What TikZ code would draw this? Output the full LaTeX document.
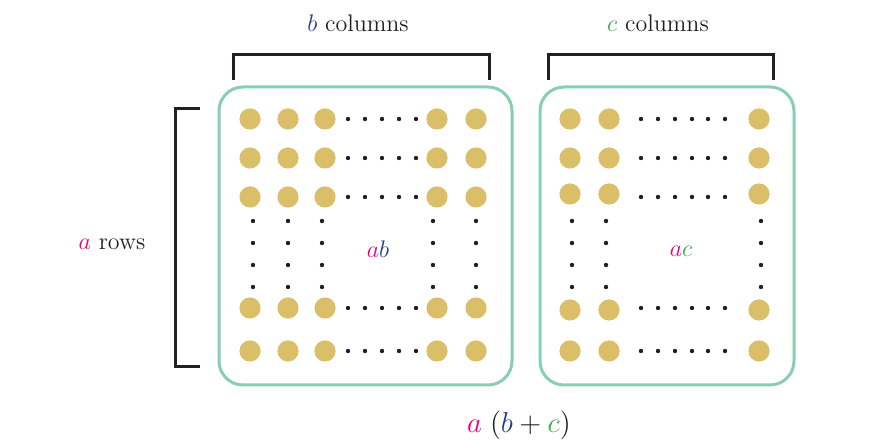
\documentclass[tikz,border=0pt]{standalone}
\definecolor{rimgreen}{HTML}{88CFB0}
\definecolor{dotgold}{HTML}{DBBE68}
\definecolor{amag}{HTML}{E6007E}
\definecolor{bblue}{HTML}{233A8C}
\definecolor{cgreen}{HTML}{3DAA48}
\definecolor{ink}{HTML}{231F20}
\begin{document}
\begin{tikzpicture}[x=0.5pt,y=-0.5pt,
    box/.style={draw=rimgreen,line width=1.5pt,rounded corners=12pt,inner sep=0pt},
    brk/.style={draw=ink,line width=1.5pt},
    lbl/.style={text=ink,font=\fontsize{12}{14}\selectfont},
    bigdot/.style={fill=dotgold},
    smalldot/.style={fill=ink}]
\useasboundingbox (0,0) rectangle (873,448);

% two boxes: ab and ac
\node[box,minimum width=146.5pt,minimum height=149pt] (abbox) at (365.5,236) {};
\node[box,minimum width=127pt,minimum height=149pt] (acbox) at (667,236) {};

% dots of ab
\foreach \x in {250,288,325,437,476}
  \foreach \y in {119,158,197,308,351}
    \fill[bigdot] (\x,\y) circle[radius=5.3pt];
\foreach \y in {119,158,197,308,351}
  \foreach \x in {348,365,382,399,416}
    \fill[smalldot] (\x,\y) circle[radius=1.1pt];
\foreach \x in {253,288,322,433,476}
  \foreach \y in {221,243,265,287}
    \fill[smalldot] (\x,\y) circle[radius=1.1pt];

% dots of ac
\foreach \x in {570,609,759}
  \foreach \y in {119,158,194,310,351}
    \fill[bigdot] (\x,\y) circle[radius=5.3pt];
\foreach \y in {119,158,197,308,351}
  \foreach \x in {641,658,675,692,708,725}
    \fill[smalldot] (\x,\y) circle[radius=1.1pt];
\foreach \x in {572,606,761}
  \foreach \y in {221,243,265,287}
    \fill[smalldot] (\x,\y) circle[radius=1.1pt];

% brackets
\draw[brk] (233,80) -- (233,55) -- (489,55) -- (489,80);
\draw[brk] (548,80) -- (548,55) -- (773,55) -- (773,80);
\draw[brk] (200,109) -- (175,109) -- (175,367) -- (200,367);

\node[lbl] (bcols) at (358,23) {{\color{bblue}$b$} columns};
\node[lbl] (ccols) at (658,23) {{\color{cgreen}$c$} columns};
\node[lbl] (arows) at (112,244) {{\color{amag}$a$} rows};
\node[lbl] (ab) at (378,249) {${\color{amag}a}{\color{bblue}b}$};
\node[lbl] (ac) at (681,251) {${\color{amag}a}{\color{cgreen}c}$};
\node[lbl,font=\fontsize{15}{18}\selectfont] (sum) at (519,425)
  {${\color{amag}a}\;({\color{bblue}b}+{\color{cgreen}c})$};

\end{tikzpicture}
\end{document}
